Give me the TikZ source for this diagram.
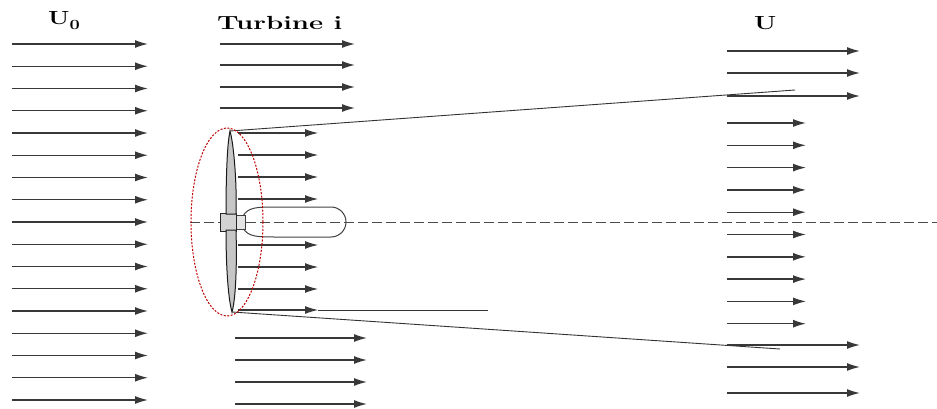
\documentclass[tikz,border=0pt]{standalone}
\usepackage{graphicx}
\usetikzlibrary{arrows.meta}
\begin{document}
\begin{tikzpicture}[x=1pt,y=-1pt,
        flow/.style={draw=black!78,line width=1.4pt,-{Latex[length=13pt,width=8pt]}},
        edge/.style={draw=black!80,line width=0.9pt},
        heading/.style={inner sep=0pt,anchor=base west,font=\fontsize{19}{19}\selectfont\bfseries}]
    \useasboundingbox (0,0) rectangle (937,409);

    \node[heading] (u0) at (48,25) {\scalebox{1.3}[1]{U\raisebox{-5pt}{\fontsize{14}{14}\selectfont 0}}};
    \node[heading] (turb) at (217,30) {\scalebox{1.45}[1]{Turbine i}};
    \node[heading] (u) at (754,30) {\scalebox{1.35}[1]{U}};

    % free stream
    \foreach \k in {0,...,16}
        \draw[flow] (12,44+22.25*\k) -- (148,44+22.25*\k);
    \foreach \y in {44,65,87,108}
        \draw[flow] (220,\y) -- (355,\y);
    \foreach \y in {338,360,382,404}
        \draw[flow] (235,\y) -- (367,\y);

    % axis
    \draw[black!70,line width=0.7pt,dash pattern=on 10pt off 4pt] (190,222) -- (937,222);

    % nacelle and hub
    \draw[black!75,line width=1pt] (243,216) .. controls (248,207) and (258,207) .. (275,207)
        -- (331,207) arc[start angle=-90,end angle=90,radius=15]
        -- (275,237) .. controls (258,237) and (248,237) .. (243,228);
    \draw[black!75,fill=gray!20] (236,215) rectangle (245,229);
    \draw[black!85,fill=gray!35] (220,213) rectangle (236,231);

    % blades
    \coordinate (tipT) at (230,131);
    \coordinate (tipB) at (232,312);
    \filldraw[fill=gray!45,draw=black!90,line width=1pt] (226,214) .. controls (226,180) and (227,145) .. (tipT)
        .. controls (234,145) and (237,185) .. (236,214) -- cycle;
    \filldraw[fill=gray!45,draw=black!90,line width=1pt] (226,230) .. controls (226,265) and (228,298) .. (tipB)
        .. controls (236,298) and (237,262) .. (236,230) -- cycle;

    % flow through the rotor
    \foreach \y in {133,155,177,199,245,267,289,310}
        \draw[flow,line width=1.1pt] (238,\y) -- (318,\y);
    \draw[edge] (318,310) -- (488,310);

    % wake boundary
    \coordinate (wakeT) at (795,90);
    \coordinate (wakeB) at (780,349);
    \draw[edge] (tipT) -- (wakeT);
    \draw[edge] (tipB) -- (wakeB);

    % rotor plane
    \draw[red!75!black,line width=1pt,dash pattern=on 2pt off 1.5pt] (227,222) ellipse [x radius=36,y radius=94];

    % wake
    \foreach \y in {51,73,96,345,367,393}
        \draw[flow] (727,\y) -- (860,\y);
    \foreach \k in {0,...,9}
        \draw[flow] (727,123+22.3*\k) -- (806,123+22.3*\k);
\end{tikzpicture}
\end{document}
